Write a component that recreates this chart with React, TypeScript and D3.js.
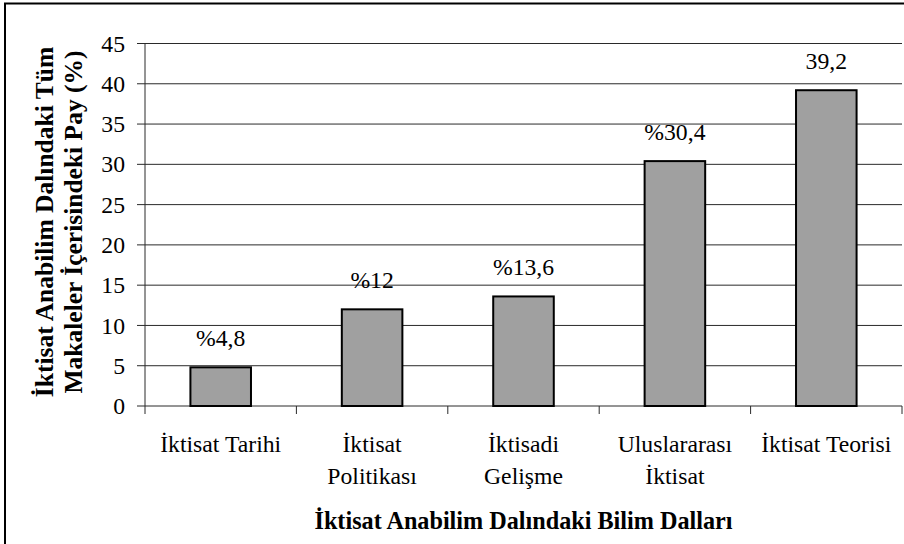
import React from "react";
import * as d3 from "d3";

const categories: string[][] = [
  ["İktisat Tarihi"],
  ["İktisat", "Politikası"],
  ["İktisadi", "Gelişme"],
  ["Uluslararası", "İktisat"],
  ["İktisat Teorisi"],
];
const values: number[] = [4.8, 12, 13.6, 30.4, 39.2];
const valueLabels: string[] = ["%4,8", "%12", "%13,6", "%30,4", "39,2"];
const yTicks: number[] = [0, 5, 10, 15, 20, 25, 30, 35, 40, 45];
const yTitle: string[] = ["İktisat Anabilim Dalındaki Tüm", "Makaleler İçerisindeki Pay (%)"];
const xTitle = "İktisat Anabilim Dalındaki Bilim Dalları";

const W = 904;
const H = 544;
const FONT = "Liberation Serif";

export default function App() {
  const left = 145;
  const right = 902;
  const top = 43.5;
  const bottom = 406;
  const x = d3
    .scaleBand<number>()
    .domain(values.map((_, i) => i))
    .range([left, right])
    .paddingInner(0.6)
    .paddingOuter(0.3);
  const xb = d3.scaleBand<number>().domain(values.map((_, i) => i)).range([left, right]);
  const y = d3.scaleLinear().domain([0, 45]).range([bottom, top]);
  const txt = { fontFamily: FONT };
  const fs = 23.7;

  return (
    <svg
      width={W}
      height={H}
      style={{ position: "absolute", left: 0, top: 0, background: "#fff", fontFamily: FONT }}
    >
      <rect x={0} y={0} width={W} height={H} fill="#fff" />
      <rect x={5} y={3.5} width={W + 20} height={H + 20} fill="none" stroke="#000" strokeWidth={2} />

      {yTicks.map((t) => (
        <line key={"g" + t} x1={137} x2={right} y1={y(t)} y2={y(t)} stroke="#2a2a2a" strokeWidth={1} />
      ))}
      <line x1={left} x2={left} y1={top} y2={bottom} stroke="#2a2a2a" strokeWidth={1} />
      {yTicks.map((t) => (
        <text key={"t" + t} x={125} y={y(t)} dy="0.34em" textAnchor="end" fontSize={fs} fill="#000" style={txt}>
          {t}
        </text>
      ))}
      {values.map((_, i) => (
        <line
          key={"xt" + i}
          x1={(xb(i) as number) + xb.bandwidth()}
          x2={(xb(i) as number) + xb.bandwidth()}
          y1={bottom}
          y2={bottom + 8}
          stroke="#2a2a2a"
        />
      ))}
      <line x1={left} x2={left} y1={bottom} y2={bottom + 8} stroke="#2a2a2a" />

      {values.map((v, i) => (
        <rect
          key={"b" + i}
          x={x(i)}
          y={y(v)}
          width={x.bandwidth()}
          height={bottom - y(v)}
          fill="#a0a0a0"
          stroke="#000"
          strokeWidth={2}
        />
      ))}
      {values.map((v, i) => (
        <text
          key={"v" + i}
          x={(x(i) as number) + x.bandwidth() / 2}
          y={y(v) - 21}
          textAnchor="middle"
          fontSize={fs}
          fill="#000"
          style={txt}
        >
          {valueLabels[i]}
        </text>
      ))}
      {categories.map((lines, i) => (
        <text
          key={"c" + i}
          x={(xb(i) as number) + xb.bandwidth() / 2}
          y={452}
          textAnchor="middle"
          fontSize={fs}
          fill="#000"
          style={txt}
        >
          {lines.map((l, j) => (
            <tspan key={j} x={(xb(i) as number) + xb.bandwidth() / 2} dy={j === 0 ? 0 : 32}>
              {l}
            </tspan>
          ))}
        </text>
      ))}
      {yTitle.map((l, j) => (
        <text
          key={"yt" + j}
          transform={`translate(${52.5 + j * 29.5},${222}) rotate(-90)`}
          textAnchor="middle"
          fontSize={25.5}
          fontWeight="bold"
          fill="#000"
          style={txt}
        >
          {l}
        </text>
      ))}
      <text x={(left + right) / 2} y={529} textAnchor="middle" fontSize={24.2} fontWeight="bold" fill="#000" style={txt}>
        {xTitle}
      </text>
    </svg>
  );
}
